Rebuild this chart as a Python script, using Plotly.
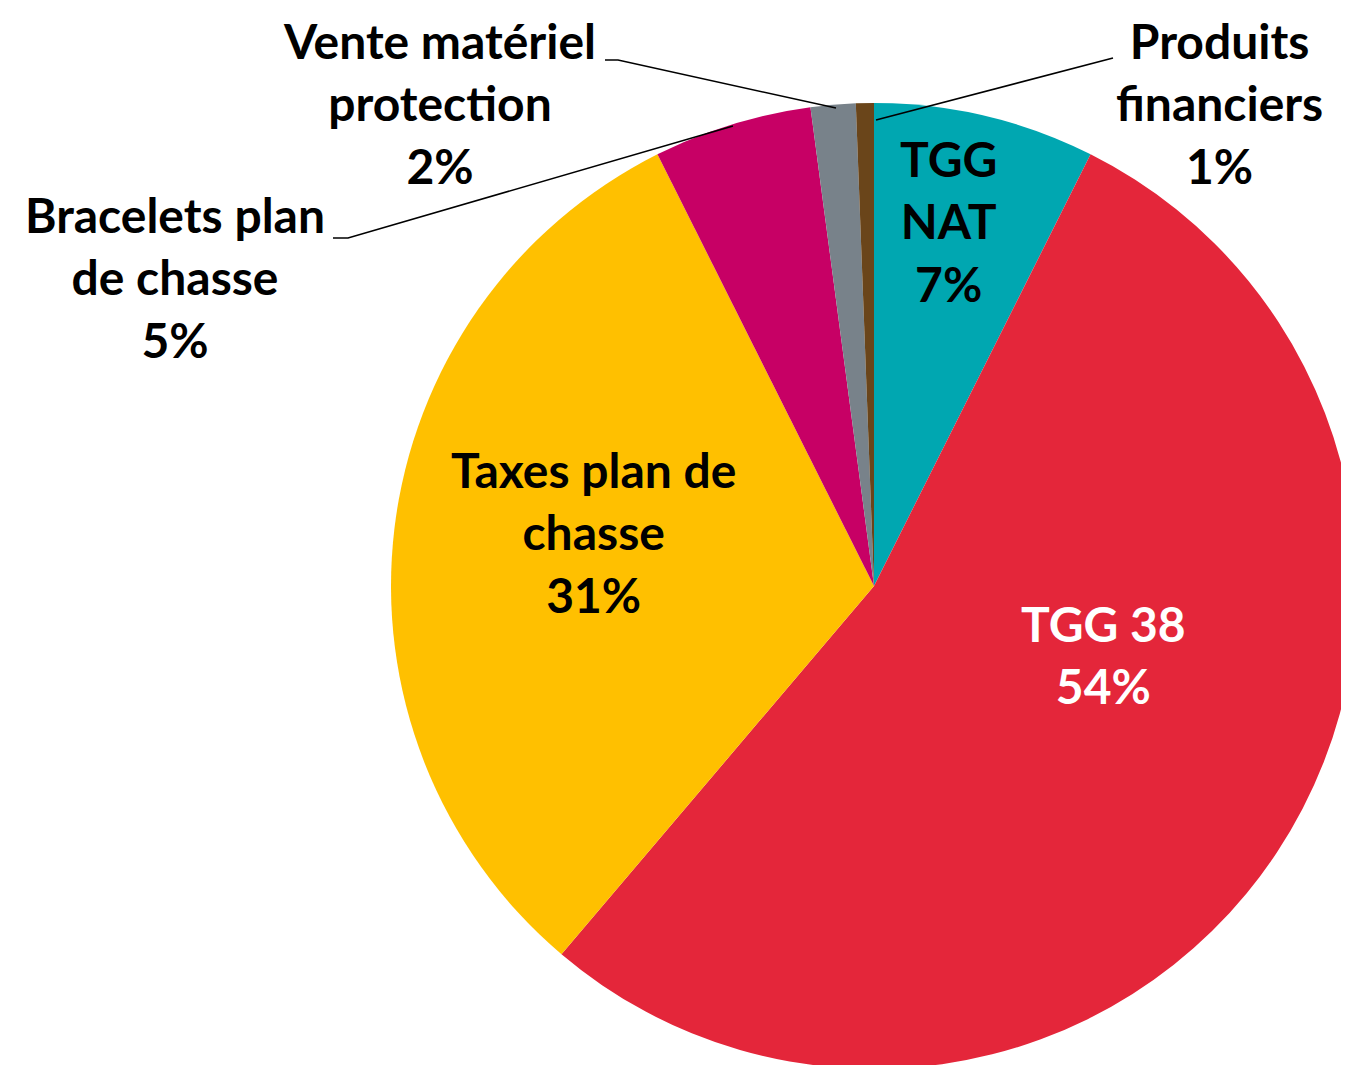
import plotly.graph_objects as go

W, H = 1349, 1065

labels = ["TGG NAT", "TGG 38", "Taxes plan de chasse", "Bracelets plan de chasse",
          "Vente matériel protection", "Produits financiers"]
display_labels = ["TGG<br>NAT", "TGG 38", "Taxes plan de<br>chasse", "Bracelets plan<br>de chasse",
                  "Vente matériel<br>protection", "Produits<br>financiers"]
values = [7.4, 53.8, 31.4, 5.3, 1.5, 0.6]
colors = ["#00A7B1", "#E4263A", "#FFC000", "#C70065", "#78828A", "#6A451A"]
text_colors = ["black", "white", "black", "black", "black", "black"]

# label placement (pixels from top-left) and leader lines
label_pos = [(940, 213), (1095, 646), (585, 524), (167, 269), (431, 95), (1211, 95)]
leaders = {
    3: [(325, 230), (340, 230), (725, 118)],
    4: [(597, 52), (610, 52), (828, 100)],
    5: [(1105, 50), (868, 112)],
}

cx, cy = 866, 578
half = W - cx
fig = go.Figure(go.Pie(
    labels=labels, values=values, sort=False, direction="clockwise", rotation=0,
    marker=dict(colors=colors, line=dict(width=0)),
    textinfo="none", hoverinfo="label+percent", showlegend=False,
    domain=dict(x=[(cx - half) / W, 1], y=[1 - (cy + half) / H, 1 - (cy - half) / H]),
))

total = sum(values)
for i, (lab, v) in enumerate(zip(display_labels, values)):
    px, py = label_pos[i]
    fig.add_annotation(
        x=px / W, y=1 - py / H, xref="paper", yref="paper",
        text=f"<b>{lab}<br>{round(100 * v / total)}%</b>",
        showarrow=False, xanchor="center", yanchor="middle", align="center",
        font=dict(family="Lato", size=48, color=text_colors[i]),
    )

for pts in leaders.values():
    path = "M " + " L ".join(f"{x / W},{1 - y / H}" for x, y in pts)
    fig.add_shape(type="path", path=path, xref="paper", yref="paper",
                  line=dict(color="black", width=1.5))

fig.update_layout(width=W, height=H, margin=dict(l=0, r=0, t=0, b=0),
                  paper_bgcolor="white", plot_bgcolor="white")
fig.write_html("out.html")
